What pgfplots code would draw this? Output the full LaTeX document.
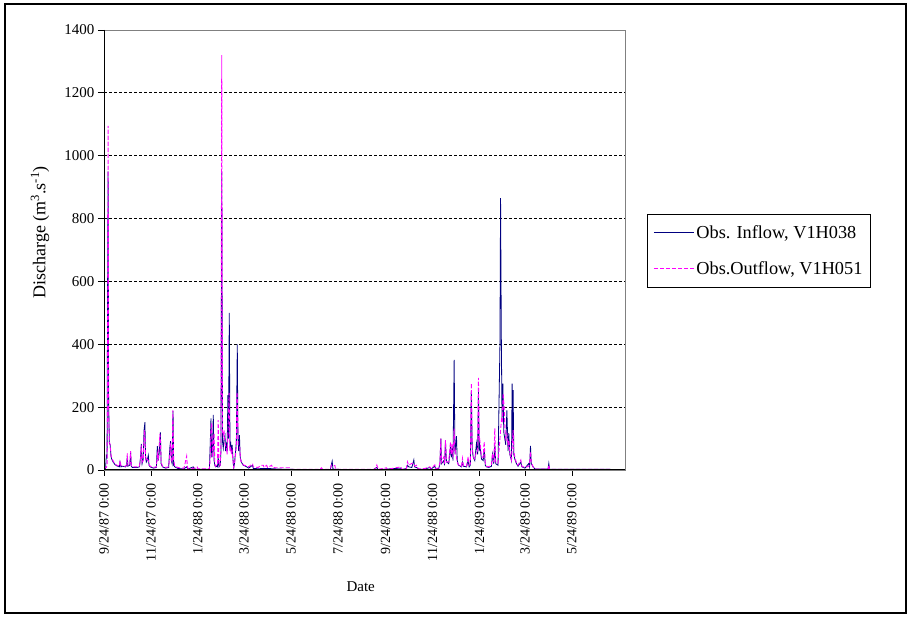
\documentclass[border=0pt]{standalone}
\usepackage{fontspec}
\setmainfont{Liberation Serif}
\usepackage{pgfplots}
\pgfplotsset{compat=1.18}
\definecolor{navyline}{RGB}{0,0,128}
\definecolor{magline}{RGB}{255,0,255}
\begin{document}
\begin{tikzpicture}[x=1pt,y=1pt]
\path[use as bounding box] (0,0) rectangle (911,623);
\draw[line width=2pt,black] (5,10) rectangle (906,619);
\begin{axis}[
  at={(104pt,153pt)}, anchor=south west,
  scale only axis, width=521pt, height=440pt,
  xmin=0, xmax=677, ymin=0, ymax=1400,
  xtick={0,61,122,182,243,304,366,427,488,547,608},
  xticklabels={9/24/87 0:00, 11/24/87 0:00, 1/24/88 0:00, 3/24/88 0:00, 5/24/88 0:00, 7/24/88 0:00, 9/24/88 0:00, 11/24/88 0:00, 1/24/89 0:00, 3/24/89 0:00, 5/24/89 0:00},
  ytick={0,200,...,1400},
  tick pos=left, tick align=outside, major tick length=6pt,
  tick style={black, line width=0.8pt},
  axis line style={draw=gray, line width=0.8pt},
  ymajorgrids, grid style={black, line width=0.8pt, dash pattern=on 3pt off 2pt},
  /pgf/number format/assume math mode=true,
  /pgf/number format/1000 sep={},
  xticklabel shift=4pt,
  xticklabel style={rotate=90, anchor=east, font=\fontsize{14}{14}\selectfont},
  yticklabel style={font=\fontsize{15}{15}\selectfont},
  xlabel={Date},
  xlabel style={at={(axis description cs:0.4927,-0.265)}, anchor=center, font=\fontsize{15}{15}\selectfont},
  ylabel={Discharge (m\textsuperscript{3}.s\textsuperscript{-1})},
  ylabel style={at={(axis description cs:-0.123,0.54)}, anchor=center, font=\fontsize{18}{18}\selectfont},
  legend style={at={(axis description cs:1.0422,0.5818)}, anchor=north west, draw=black, line width=0.8pt,
    font=\fontsize{18.3}{21}\selectfont, cells={anchor=west}, inner xsep=6pt, inner ysep=9pt, row sep=18pt},
]
\addplot[draw=navyline, line width=0.8pt,
  legend image code/.code={\draw[draw=navyline, line width=0.8pt, solid] (0pt,0pt) -- (40pt,0pt);}] coordinates {
(0,2) (2,3) (3,45) (4,40) (4.6,530) (5.3,950) (6,210) (7,85) (8,80) (9,45) (10,35) (12,25) (14,18) (16,14) (18,12) (20,10) (20.8,25) (22,10) (24,12) (28,10) (29.5,15) (30.3,45) (31,12) (33.5,15) (34.6,55) (35.5,12) (37,8) (43,8) (46,10) (47.5,40) (48.5,83) (49.5,20) (51,35) (52,125) (53.2,152) (54,40) (55,25) (56,30) (57.6,47) (58.5,15) (60,10) (64,6) (68,8) (69.3,76) (70.5,30) (72,60) (73.3,120) (74.2,20) (76,10) (80,6) (84,8) (85.5,70) (86.5,92) (87.5,30) (88.5,20) (89.7,188) (90.5,15) (92,10) (96,5) (100,4) (104,4) (107.4,10) (109,3) (116,10) (117,3) (125,2) (133,2) (137,3) (138,80) (139,164) (140,40) (141,60) (142,175) (143,30) (144,15) (145,10) (146,12) (147.5,10) (148.4,40) (149.5,10) (151,15) (152,60) (153,950) (154,90) (155,70) (156,100) (157.2,110) (158,60) (159,80) (160,60) (161,238) (161.8,100) (162.8,500) (163.7,70) (164.5,90) (165.5,55) (166.5,80) (167.5,40) (168.5,5) (169.5,20) (171,60) (172,90) (173.2,400) (174,110) (175,60) (176,111) (177,40) (178.5,25) (181,15) (184,12) (188,6) (193,15) (194,5) (200,4) (210,5) (220,4) (226,3) (242,2) (280,1) (294,1) (296.5,28) (297.5,3) (300,2) (350,1) (354.5,8) (356,1) (385.7,6) (387,1) (393,5) (394.3,15) (396,10) (400,8) (402.6,32) (403.5,10) (406,8) (410,2) (417,3) (423.4,8) (425,3) (429.9,12) (431,3) (435,5) (436.5,20) (437.7,100) (438.5,20) (441.6,30) (442.5,15) (443.7,90) (445,26) (448,20) (450.2,74) (451.3,40) (452.4,70) (453.5,30) (455,350) (456,50) (458,108) (459,30) (460.5,16) (464.5,10) (465.8,25) (467,12) (471,10) (473.2,30) (474.5,10) (476,15) (477.3,250) (478.5,60) (480,40) (481.8,30) (484,85) (485.5,50) (486.6,255) (487.5,60) (488.3,80) (490.5,35) (492.7,30) (494,63) (495.5,15) (497,10) (500,8) (503.5,12) (504.8,50) (506.5,20) (507.8,80) (509,20) (512,15) (514.5,400) (515.3,865) (516.3,420) (517.2,160) (518.3,275) (519.5,120) (520.8,100) (522,80) (523.5,190) (525,60) (526,117) (527.3,50) (529.5,30) (530.3,275) (531,100) (531.6,254) (532.5,50) (533.8,35) (536,20) (538,12) (541.6,25) (543,10) (547,6) (552,21) (553,10) (554.2,77) (555.2,20) (557.6,10) (560,3) (577,3) (578,21) (579,2) (658,2)
};
\addlegendentry{Obs. Inflow, V1H038}
\addplot[draw=magline, line width=0.9pt, dash pattern=on 4pt off 2pt,
  legend image code/.code={\draw[draw=magline, line width=1pt, dash pattern=on 4pt off 2pt] (0pt,0pt) -- (40pt,0pt);}] coordinates {
(0,5) (3,8) (4,15) (4.6,300) (5.4,1095) (6,200) (7,90) (8,80) (9,50) (10,38) (12,28) (14,20) (16,16) (18,14) (20,12) (20.8,30) (22,14) (24,12) (28,12) (29.5,18) (30.3,53) (31,14) (33.5,18) (34.6,60) (35.5,14) (37,10) (43,10) (46,12) (47.5,35) (48.5,78) (49.5,25) (51,30) (52.4,127) (53.2,110) (54,45) (55,30) (56,35) (57.6,30) (58.5,18) (60,12) (64,8) (68,10) (69.5,50) (70.5,30) (72.7,115) (73.5,80) (74.2,25) (76,12) (80,8) (84,10) (85.5,50) (86.5,85) (87.5,35) (88.5,25) (89.5,190) (90.5,30) (92,12) (96,8) (100,6) (104,6) (107.4,44) (108.5,6) (112,5) (116,5) (121,10) (122,4) (130,4) (137,4) (138,40) (139,130) (140,150) (141,40) (142,79) (143,118) (144,20) (145,12) (146,15) (147.5,15) (148.4,159) (149.5,12) (151,14) (152,80) (153,1320) (154,120) (155,110) (156,127) (157,90) (158,75) (159,70) (160,50) (161,120) (161.8,180) (162.6,245) (163.5,60) (164.5,75) (165.5,51) (166.5,60) (167.5,30) (168.5,8) (169.5,20) (171,50) (172,80) (172.8,248) (173.6,200) (174.5,80) (175.5,79) (176.5,70) (177.5,30) (179,25) (181,16) (184,14) (188,10) (193,20) (194,10) (200,8) (205,15) (207,15) (208,8) (211.3,15) (212.5,8) (217.8,15) (219,8) (224,7) (241,7) (242,2) (280,2) (282.7,7) (284,2) (294,2) (295.6,16) (300,14) (301,2) (352,2) (354.5,16) (356.5,2) (367,7) (368,2) (385.7,10) (387,2) (393,5) (394.3,26) (396,15) (400,21) (402.6,20) (404,12) (406,15) (408,5) (410,3) (417,5) (423.4,10) (425,4) (429.9,16) (431,5) (435,6) (436.5,25) (437.7,100) (438.5,25) (441.6,42) (442.5,20) (443.7,95) (445,26) (448,26) (450.2,90) (451.3,50) (452.4,85) (453.5,40) (455,132) (456,60) (456.7,63) (458,40) (459,25) (460.5,16) (464.5,12) (465.8,37) (467,14) (471,12) (473.2,42) (474.5,15) (476,20) (477.3,276) (478.5,70) (480,42) (481.8,35) (484,60) (485.5,60) (486.6,293) (487.5,90) (488.3,95) (490.5,42) (492.7,40) (494,90) (495.5,20) (497,12) (500,10) (503.5,16) (504.8,53) (506.5,25) (507.8,132) (509,25) (512,21) (514.5,100) (515.3,127) (516.5,160) (517.5,150) (518.6,244) (519.9,201) (521,130) (522,100) (523.5,115) (525,80) (526,95) (527.3,53) (529.5,32) (530.3,70) (531.6,127) (532.5,60) (533.8,42) (536,21) (538,15) (541.6,32) (543,12) (547,8) (552,12) (553,20) (554.2,58) (555.2,25) (557.6,10) (560,3) (577,3) (578,16) (579,2) (658,2)
};
\addlegendentry{Obs.Outflow, V1H051}
\draw[gray, line width=0.8pt] (rel axis cs:0,1) -- (rel axis cs:1,1) -- (rel axis cs:1,0);
\draw[black, line width=1pt] (rel axis cs:0,1) -- (rel axis cs:0,0) -- (rel axis cs:1,0);
\end{axis}
\end{tikzpicture}
\end{document}
